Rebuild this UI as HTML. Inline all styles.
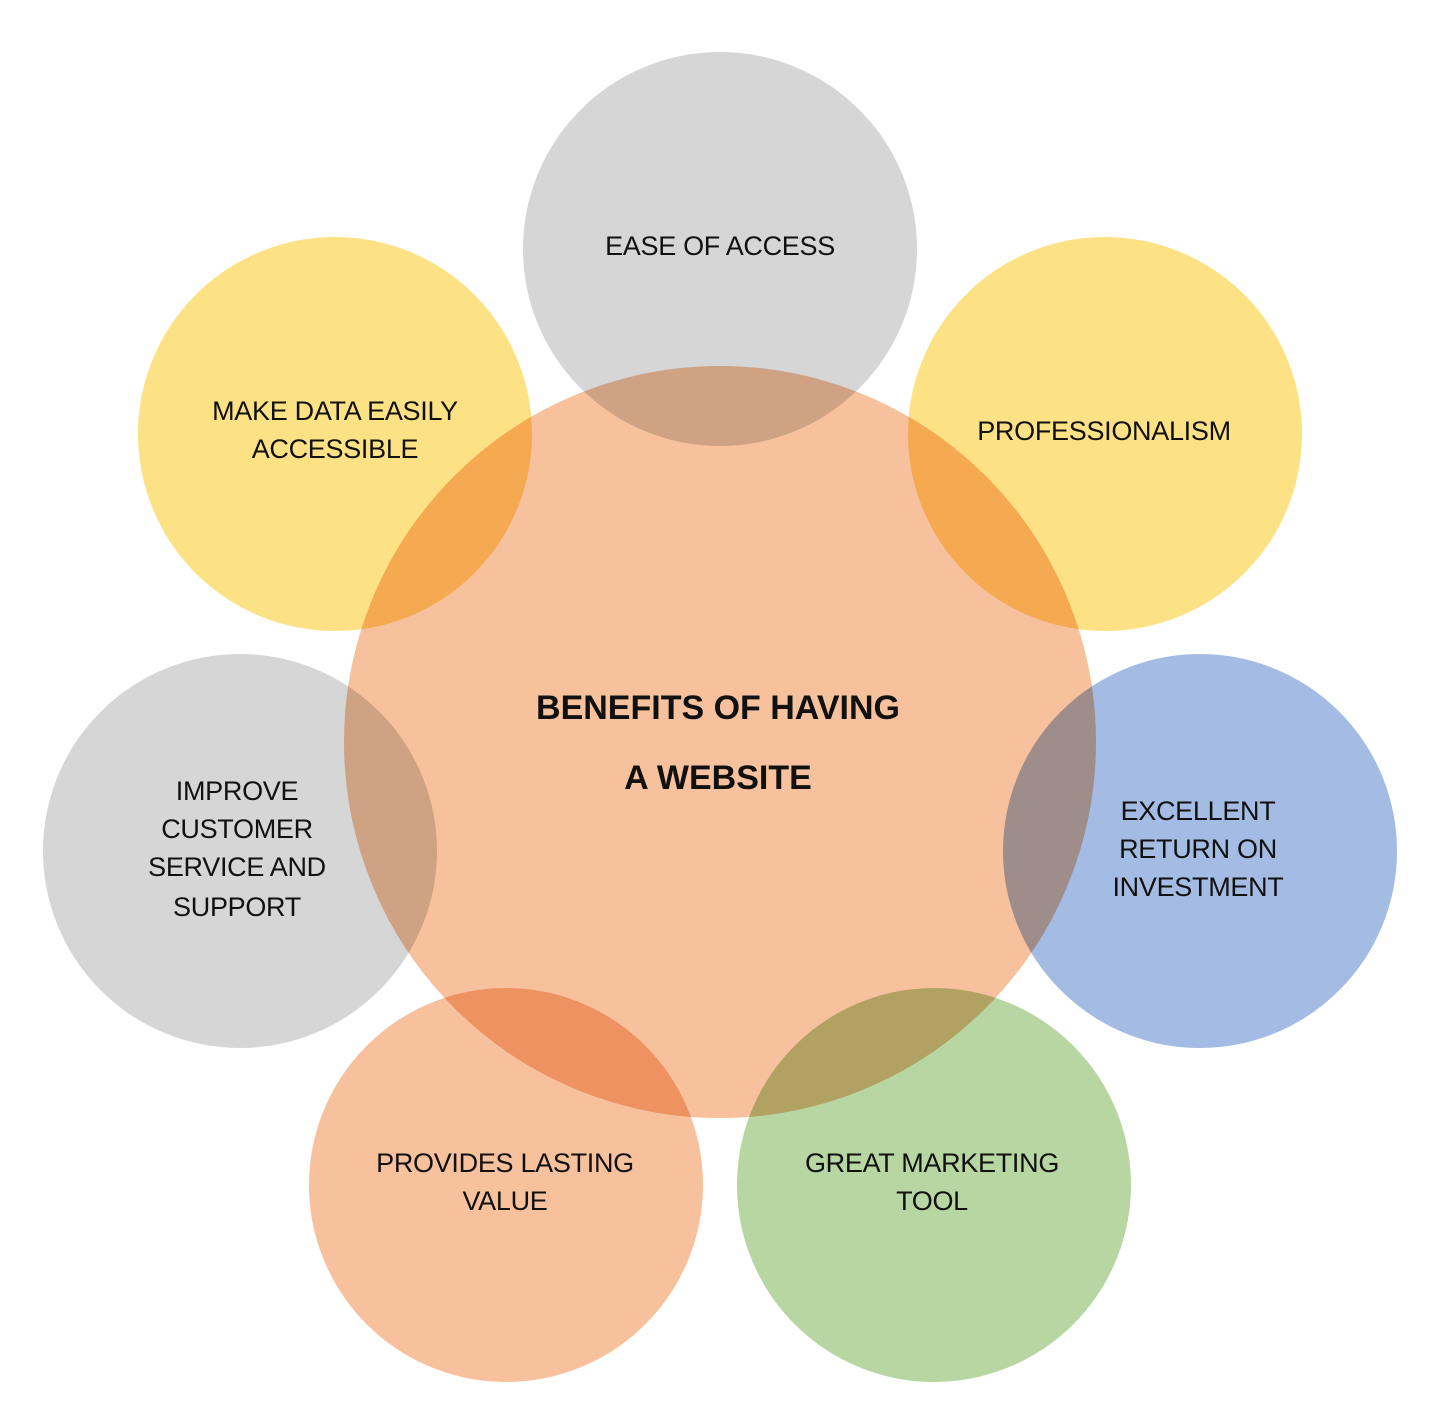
<!DOCTYPE html>
<html><head><meta charset="utf-8"><style>
html,body{margin:0;padding:0;background:#fff;}
svg{display:block;}
.c{mix-blend-mode:multiply;stroke:#fff;stroke-width:2;}
text{font-family:"Liberation Sans",sans-serif;fill:#111;text-anchor:middle;}
.t{font-size:27px;letter-spacing:-0.3px;}
.b{font-size:34px;font-weight:bold;}
</style></head><body>
<svg width="1446" height="1409" viewBox="0 0 1446 1409" xmlns="http://www.w3.org/2000/svg">
<rect width="1446" height="1409" fill="#fff"/>
<g style="isolation:isolate">
<circle class="c" cx="720" cy="742" r="377" fill="#f7c19d"/>
<circle class="c" cx="720" cy="249" r="198" fill="#d6d6d6"/>
<circle class="c" cx="1105" cy="434" r="198" fill="#fde185"/>
<circle class="c" cx="1200" cy="851" r="198" fill="#a4bbe3"/>
<circle class="c" cx="934" cy="1185" r="198" fill="#b7d6a2"/>
<circle class="c" cx="506" cy="1185" r="198" fill="#f7c19d"/>
<circle class="c" cx="240" cy="851" r="198" fill="#d6d6d6"/>
<circle class="c" cx="335" cy="434" r="198" fill="#fde185"/>
</g>
<text class="t" x="720" y="255">EASE OF ACCESS</text>
<text class="t" x="1104" y="440">PROFESSIONALISM</text>
<text class="t" x="335" y="420">MAKE DATA EASILY</text>
<text class="t" x="335" y="458">ACCESSIBLE</text>
<text class="b" x="718" y="719">BENEFITS OF HAVING</text>
<text class="b" x="718" y="789">A WEBSITE</text>
<text class="t" x="237" y="800">IMPROVE</text>
<text class="t" x="237" y="838">CUSTOMER</text>
<text class="t" x="237" y="876">SERVICE AND</text>
<text class="t" x="237" y="916">SUPPORT</text>
<text class="t" x="1198" y="820">EXCELLENT</text>
<text class="t" x="1198" y="858">RETURN ON</text>
<text class="t" x="1198" y="896">INVESTMENT</text>
<text class="t" x="505" y="1172">PROVIDES LASTING</text>
<text class="t" x="505" y="1210">VALUE</text>
<text class="t" x="932" y="1172">GREAT MARKETING</text>
<text class="t" x="932" y="1210">TOOL</text>
</svg>
</body></html>
